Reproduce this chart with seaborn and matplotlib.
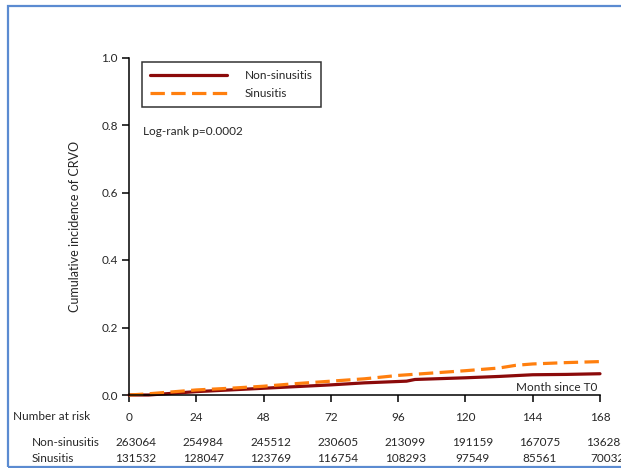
import matplotlib
matplotlib.use('Agg')
import matplotlib.pyplot as plt
import matplotlib.patches as mpatches
import matplotlib.transforms as mtransforms
import seaborn as sns
import pandas as pd

# Kumulatív incidencia
honap_non = [0, 7, 12, 24, 36, 48, 60, 72, 84, 96, 99, 102, 120, 132, 144, 156, 168]
inc_non = [0, 0, 0.003, 0.010, 0.015, 0.020, 0.025, 0.030, 0.036, 0.040, 0.041, 0.046,
           0.051, 0.055, 0.060, 0.061, 0.063]
honap_sin = [0, 6, 12, 24, 36, 48, 60, 72, 84, 96, 108, 120, 132, 138, 144, 156, 168]
inc_sin = [0, 0.003, 0.007, 0.015, 0.020, 0.026, 0.034, 0.041, 0.048, 0.058, 0.065,
           0.072, 0.080, 0.088, 0.092, 0.096, 0.099]

# Number at risk tábla
risk_honapok = [0, 24, 48, 72, 96, 120, 144, 168]
risk_non = [263064, 254984, 245512, 230605, 213099, 191159, 167075, 136288]
risk_sin = [131532, 128047, 123769, 116754, 108293, 97549, 85561, 70032]

csoportok = ['Non-sinusitis', 'Sinusitis']
szinek = {'Non-sinusitis': '#8b0a0a', 'Sinusitis': '#ff7f0e'}

df = pd.concat([
    pd.DataFrame({'Month': honap_non, 'Incidence': inc_non, 'Group': 'Non-sinusitis'}),
    pd.DataFrame({'Month': honap_sin, 'Incidence': inc_sin, 'Group': 'Sinusitis'}),
])

sns.set_style('ticks')
plt.rcParams['font.family'] = ['Lato', 'DejaVu Sans']
fs = 8.5

fig = plt.figure(figsize=(6.21, 4.68), dpi=100)
ax = fig.add_axes([129 / 621, 73 / 468, 471 / 621, 337.5 / 468])

sns.lineplot(data=df, x='Month', y='Incidence', hue='Group', style='Group',
             hue_order=csoportok, style_order=csoportok, palette=szinek,
             dashes={'Non-sinusitis': '', 'Sinusitis': (4.5, 2)},
             linewidth=2.3, ax=ax, clip_on=False)

ax.set_xlim(0, 168)
ax.set_ylim(0, 1.0)
ax.set_xticks(risk_honapok)
ax.set_yticks([0, 0.2, 0.4, 0.6, 0.8, 1.0])
ax.set_yticklabels(['0.0', '0.2', '0.4', '0.6', '0.8', '1.0'])
ax.tick_params(axis='both', labelsize=fs, length=5, width=1.1, color='black', direction='out')
ax.tick_params(axis='x', pad=7)
ax.tick_params(axis='y', pad=3)
sns.despine(ax=ax)
for s in ['left', 'bottom']:
    ax.spines[s].set_linewidth(1.1)
    ax.spines[s].set_color('black')

ax.set_xlabel('')
ax.set_ylabel('Cumulative incidence of CRVO', fontsize=fs + 0.5)
ax.yaxis.set_label_coords(-0.102, 0.5)

h, l = ax.get_legend_handles_labels()
leg = ax.legend(h, l, loc='upper left', bbox_to_anchor=(0.0276, 0.987), borderaxespad=0,
                fontsize=fs, frameon=True, fancybox=False, edgecolor='black',
                handlelength=6.5, handletextpad=1.5, labelspacing=0.6, borderpad=0.7)
leg.get_frame().set_linewidth(1.1)
for line in leg.get_lines():
    line.set_linewidth(2.3)

ax.text(0.030, 0.782, 'Log-rank p=0.0002', transform=ax.transAxes, fontsize=fs,
        ha='left', va='center')
ax.text(0.994, 0.021, 'Month since T0', transform=ax.transAxes, fontsize=fs,
        ha='right', va='center')

# Number at risk
ax.text(-0.246, -0.065, 'Number at risk', transform=ax.transAxes, fontsize=fs,
        ha='left', va='center')
ax.text(-0.206, -0.142, 'Non-sinusitis', transform=ax.transAxes, fontsize=fs,
        ha='left', va='center')
ax.text(-0.206, -0.187, 'Sinusitis', transform=ax.transAxes, fontsize=fs,
        ha='left', va='center')
trans = mtransforms.blended_transform_factory(ax.transData, ax.transAxes)
for t, n1, n2 in zip(risk_honapok, risk_non, risk_sin):
    ax.text(t + 2.5, -0.142, str(n1), transform=trans, fontsize=fs, ha='center',
            va='center', clip_on=False)
    ax.text(t + 2.5, -0.187, str(n2), transform=trans, fontsize=fs, ha='center',
            va='center', clip_on=False)

# kék keret
keret = mpatches.Rectangle((8 / 621, 1 / 468), 1.2, 461 / 468, transform=fig.transFigure,
                           fill=False, edgecolor='#5b8bd1', linewidth=1.6, clip_on=False)
fig.patches.append(keret)

fig.savefig('out.png', dpi=100)
